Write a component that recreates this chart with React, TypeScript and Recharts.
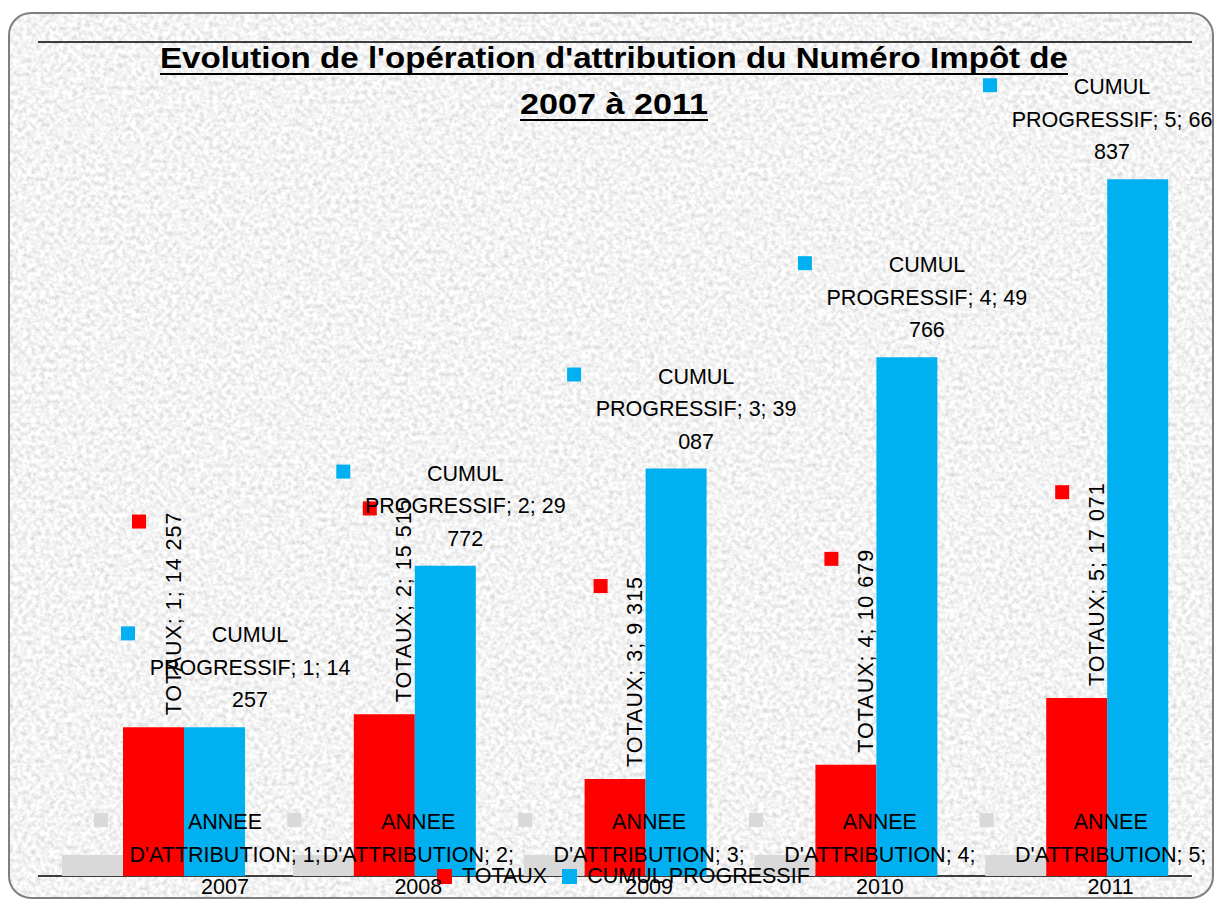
import React from 'react'
import { BarChart, Bar, XAxis, YAxis, CartesianGrid, Legend, LabelList } from 'recharts'

// categories (index used by Excel data labels) and series
const categories = ['1', '2', '3', '4', '5']
const anneeAttribution = [2007, 2008, 2009, 2010, 2011]
const totaux = [14257, 15515, 9315, 10679, 17071]
const cumulProgressif = [14257, 29772, 39087, 49766, 66837]
const yTicks = [0, 10000, 20000, 30000, 40000, 50000, 60000, 70000, 80000]
const legendOrder = ['TOTAUX', 'CUMUL PROGRESSIF']

const data = categories.map((c, i) => ({
  cat: c,
  annee: anneeAttribution[i],
  totaux: totaux[i],
  cumul: cumulProgressif[i]
}))

const W = 1215
const H = 899
const MARGIN = { top: 42, right: 23, bottom: 23, left: 38 }
const FONT = '"Liberation Sans", Arial, sans-serif'
const LABEL_SIZE = 21.5
const GREY = '#d9d9d9'
const RED = '#ff0000'
const BLUE = '#00b0f0'

let measureCtx: CanvasRenderingContext2D | null = null
function measure(s: string): number {
  if (!measureCtx) measureCtx = document.createElement('canvas').getContext('2d')
  if (!measureCtx) return s.length * 11
  measureCtx.font = `${LABEL_SIZE}px ${FONT}`
  return measureCtx.measureText(s).width
}

const fmt = (v: number) => String(v).replace(/\B(?=(\d{3})+(?!\d))/g, ' ')

function box(p: any) {
  const vb = p.viewBox && p.viewBox.width != null ? p.viewBox : p
  return { x: Number(vb.x), y: Number(vb.y), w: Number(vb.width) }
}

const txtProps = {
  fontFamily: FONT,
  fontSize: LABEL_SIZE,
  fill: '#000',
  textAnchor: 'middle' as const,
  dominantBaseline: 'central' as const
}

function GreyLabel(p: any) {
  const { x, y, w } = box(p)
  const idx = p.index != null ? p.index : anneeAttribution.indexOf(Number(p.value))
  const cx = x + w / 2
  const keyX = Math.max(cx - 29, 101)
  const tc = keyX + 124
  const lines = ['ANNEE', `D'ATTRIBUTION; ${idx + 1};`, String(p.value)]
  return (
    <g>
      <rect x={keyX - 7} y={y - 35 - 7} width={14} height={14} fill={GREY} />
      {lines.map((l, k) => (
        <text key={k} x={tc} y={y - 33 + k * 32.5} {...txtProps}>{l}</text>
      ))}
    </g>
  )
}

function RedLabel(p: any) {
  const { x, y, w } = box(p)
  const idx = p.index != null ? p.index : totaux.indexOf(Number(p.value))
  const cx = x + w / 2
  const txt = `TOTAUX; ${idx + 1}; ${fmt(Number(p.value))}`
  const spacing = 1
  const len = measure(txt) + spacing * txt.length
  const bottom = y - 12
  const top = bottom - len
  return (
    <g>
      <rect x={cx - 21.5} y={top + 3} width={14} height={14} fill={RED} />
      <text
        transform={`translate(${cx + 20},${bottom}) rotate(-90)`}
        {...txtProps}
        letterSpacing={spacing}
        textAnchor="start"
      >
        {txt}
      </text>
    </g>
  )
}

function BlueLabel(p: any) {
  const { x, y, w } = box(p)
  const idx = p.index != null ? p.index : cumulProgressif.indexOf(Number(p.value))
  const cx = x + w / 2
  const tc = Math.min(Math.max(cx + 20, 250), 1112)
  const parts = fmt(Number(p.value)).split(' ')
  const lines = ['CUMUL', `PROGRESSIF; ${idx + 1}; ${parts[0]}`, parts.slice(1).join(' ')]
  return (
    <g>
      <rect x={tc - 122 - 7} y={y - 94 - 7} width={14} height={14} fill={BLUE} />
      {lines.map((l, k) => (
        <text key={k} x={tc} y={y - 92 + k * 32.5} {...txtProps}>{l}</text>
      ))}
    </g>
  )
}

function LegendContent(props: any) {
  const items = (props.payload || [])
    .filter((it: any) => legendOrder.includes(it.value))
    .sort((a: any, b: any) => legendOrder.indexOf(a.value) - legendOrder.indexOf(b.value))
  return (
    <div style={{ display: 'flex', alignItems: 'center', fontFamily: FONT, fontSize: LABEL_SIZE, color: '#000', lineHeight: '28px' }}>
      {items.map((it: any) => (
        <span key={it.value} style={{ display: 'flex', alignItems: 'center', marginRight: 15 }}>
          <span style={{ display: 'inline-block', width: 15, height: 15, background: it.color, marginRight: 10 }} />
          {it.value}
        </span>
      ))}
    </div>
  )
}

function Background() {
  return (
    <svg width={W} height={H} style={{ position: 'absolute', left: 0, top: 0 }}>
      <defs>
        <filter id="granite" x="0" y="0" width="100%" height="100%">
          <feTurbulence type="fractalNoise" baseFrequency="0.22" numOctaves="4" seed="7" result="n" />
          <feColorMatrix
            in="n"
            type="matrix"
            values="0.6 0 0 0 0.6  0.6 0 0 0 0.6  0.6 0 0 0 0.6  0 0 0 0 1"
          />
        </filter>
        <clipPath id="frame">
          <rect x={9} y={13} width={1204} height={885} rx={22} />
        </clipPath>
      </defs>
      <g clipPath="url(#frame)">
        <rect x={0} y={0} width={W} height={H} filter="url(#granite)" />
      </g>
      <rect x={9} y={13} width={1204} height={885} rx={22} fill="none" stroke="#7f7f7f" strokeWidth={2} />
    </svg>
  )
}

function Title() {
  const t1 = "Evolution de l'opération d'attribution du Numéro Impôt de"
  const t2 = '2007 à 2011'
  const cx = 614
  return (
    <svg width={W} height={H} style={{ position: 'absolute', left: 0, top: 0, pointerEvents: 'none' }}>
      <text x={cx} y={68} textAnchor="middle" fontFamily={FONT} fontWeight="bold" fontSize={29} textLength={908} lengthAdjust="spacingAndGlyphs">
        {t1}
      </text>
      <line x1={cx - 454} x2={cx + 454} y1={74} y2={74} stroke="#000" strokeWidth={2} />
      <text x={cx} y={114} textAnchor="middle" fontFamily={FONT} fontWeight="bold" fontSize={29} textLength={188} lengthAdjust="spacingAndGlyphs">
        {t2}
      </text>
      <line x1={cx - 94} x2={cx + 94} y1={120} y2={120} stroke="#000" strokeWidth={2} />
    </svg>
  )
}

export default function App() {
  return (
    <div style={{ position: 'absolute', left: 0, top: 0, width: W, height: H, background: '#fff' }}>
      <Background />
      <div style={{ position: 'absolute', left: 0, top: 0 }}>
        <BarChart width={W} height={H} data={data} margin={MARGIN} barCategoryGap="10.4%" barGap={0}>
          <CartesianGrid vertical={false} stroke="#000" strokeWidth={1.5} />
          <XAxis dataKey="cat" height={0} tick={false} tickLine={false} axisLine={{ stroke: '#595959', strokeWidth: 2 }} />
          <YAxis width={0} domain={[0, 80000]} ticks={yTicks} tick={false} tickLine={false} axisLine={false} />
          <Legend
            layout="horizontal"
            verticalAlign="middle"
            align="center"
            wrapperStyle={{ top: 862, left: 437, width: 420, height: 28 }}
            content={LegendContent}
          />
          <Bar dataKey="annee" name="ANNEE D'ATTRIBUTION" fill={GREY} legendType="none" isAnimationActive={false} />
          <Bar dataKey="totaux" name="TOTAUX" fill={RED} isAnimationActive={false} />
          <Bar dataKey="cumul" name="CUMUL PROGRESSIF" fill={BLUE} isAnimationActive={false} />
        </BarChart>
      </div>
      {/* labels drawn in a second, transparent pass so they sit above every bar */}
      <div style={{ position: 'absolute', left: 0, top: 0 }}>
        <BarChart width={W} height={H} data={data} margin={MARGIN} barCategoryGap="10.4%" barGap={0}>
          <XAxis dataKey="cat" height={0} hide />
          <YAxis width={0} domain={[0, 80000]} ticks={yTicks} hide />
          <Bar dataKey="annee" fill="none" isAnimationActive={false}>
            <LabelList dataKey="annee" content={GreyLabel} />
          </Bar>
          <Bar dataKey="totaux" fill="none" isAnimationActive={false}>
            <LabelList dataKey="totaux" content={RedLabel} />
          </Bar>
          <Bar dataKey="cumul" fill="none" isAnimationActive={false}>
            <LabelList dataKey="cumul" content={BlueLabel} />
          </Bar>
        </BarChart>
      </div>
      <Title />
    </div>
  )
}
